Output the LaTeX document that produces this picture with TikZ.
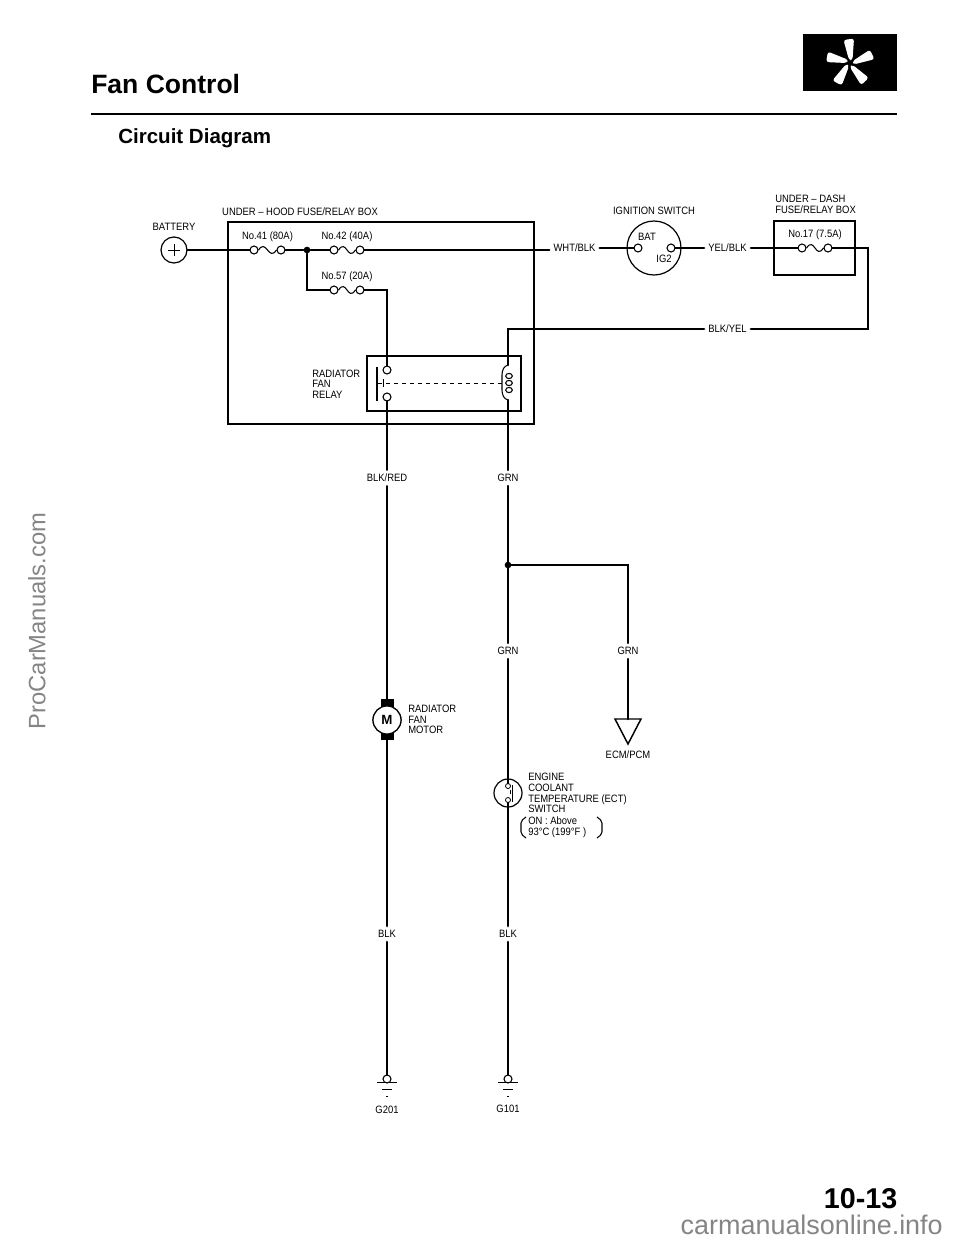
\documentclass[tikz,border=0pt]{standalone}
\usepackage{fontspec}
\setmainfont{Liberation Sans}
\newfontfamily\wirefont[FakeStretch=0.885]{Liberation Sans}
\usetikzlibrary{positioning}
\tikzset{
	wire/.style={line width=1.9pt,line cap=round,line join=miter},
	boxline/.style={line width=1.1pt},
	fineline/.style={line width=0.8pt},
	hairline/.style={line width=0.55pt},
	lbl/.style={font=\wirefont\fontsize{8}{8}\selectfont,inner sep=3pt,align=left},
	contact/.style={circle,draw,line width=0.8pt,inner sep=0pt,minimum size=6pt},
	smallcontact/.style={circle,draw,line width=0.6pt,inner sep=0pt,minimum size=3.8pt},
	junction/.style={circle,fill=black,inner sep=0pt,minimum size=5pt},
	bigring/.style={circle,draw,line width=0.9pt,inner sep=0pt},
	heading/.style={font=\bfseries,inner sep=0pt,anchor=west},
	watermark/.style={text=black!48,inner sep=0pt}
}
\begin{document}
\begin{tikzpicture}[x=0.75pt,y=-0.75pt]
	\useasboundingbox (0,0) rectangle (960,1242);
	% headings
	\node[heading,font=\bfseries\fontsize{19.9}{20}\selectfont] (title) at (91,84) {Fan Control};
	\node[heading,font=\bfseries\fontsize{15.4}{16}\selectfont] (subtitle) at (118,138) {Circuit Diagram};
	\node[heading,font=\bfseries\fontsize{21.5}{24}\selectfont,anchor=east] (pageno) at (897.5,1199) {10-13};
	\draw[line width=1.5pt] (91,113.5) -- (897,113.5);
	\fill[black] (803,34) rectangle (897,91);
	\foreach \ang in {0,72,144,216,288}
		\fill[white,rounded corners=2pt,rotate around={\ang:(850,63)}] (849,60) -- (843.5,40) -- (854,38.5) -- (852.5,60) -- cycle;
	\fill[black] (850,63) circle (2);
	% boxes
	\draw[boxline] (228,222) rectangle (534,424);
	\draw[boxline] (367,356) rectangle (521,411);
	\draw[boxline] (774,221) rectangle (855,275);
	% supply and fuses
	\node[bigring,minimum size=19.5pt] (batt) at (174,250) {};
	\draw[hairline] ([xshift=-4.5pt]batt.center) -- ([xshift=4.5pt]batt.center);
	\draw[hairline] ([yshift=-4.5pt]batt.center) -- ([yshift=4.5pt]batt.center);
	\node[contact] (f41a) at (254,250) {};
	\node[contact] (f41b) at (281,250) {};
	\node[junction] (jct) at (307,250) {};
	\node[contact] (f42a) at (334,250) {};
	\node[contact] (f42b) at (360,250) {};
	\node[contact] (f57a) at (334,290) {};
	\node[contact] (f57b) at (360,290) {};
	\node[contact] (f17a) at (802,248) {};
	\node[contact] (f17b) at (828,248) {};
	\foreach \a/\b in {f41a/f41b,f42a/f42b,f57a/f57b,f17a/f17b}
		\draw[fineline] (\a.east) .. controls +(8,-12) and +(-8,12) .. (\b.west);
	% ignition switch
	\node[bigring,minimum size=40.5pt] (ign) at (654,248) {};
	\node[contact] (bat) at (638,248) {};
	\node[contact] (igt) at (671,248) {};
	\node[lbl,inner sep=0pt] (batlbl) at (647,237) {BAT};
	\node[lbl,inner sep=0pt] (igtlbl) at (664,259) {IG2};
	% relay
	\node[contact] (k1) at (387,370) {};
	\node[contact] (k2) at (387,397) {};
	\draw[fineline] (377,367) -- (377,401);
	\draw[hairline] (383,379) -- (383,387);
	\draw[hairline,dashed] (378,383) -- (503,383);
	\coordinate (coiltop) at (508,365);
	\coordinate (coilbot) at (508,400);
	\coordinate (coilcorner) at (508,329);
	\draw[fineline] (coiltop) .. controls (504,366) and (502,370) .. (502,375) -- (502,390) .. controls (502,395) and (504,399) .. (coilbot);
	\foreach \yy in {376,383,390}
		\draw[fineline] (509,\yy) circle [x radius=3.3,y radius=2.6];
	% motor, switch, ground and connector symbols
	\node[bigring,minimum size=21pt] (motor) at (387,720) {\bfseries M};
	\node[bigring,minimum size=21pt] (ect) at (508,793) {};
	\node[smallcontact] (e1) at (508,786) {};
	\node[smallcontact] (e2) at (508,800) {};
	\draw[fineline] (512.5,785) -- (512.5,802);
	\draw[hairline,dashed] (510,790) -- (510,797);
	\coordinate (jctb) at (508,565);
	\coordinate (ecmtop) at (628,719);
	\coordinate (ecmcorner) at (628,565);
	\node[junction] (jctdot) at (jctb) {};
	\draw[boxline] (615,719) -- (641,719) -- (628,744) -- cycle;
	\node[contact] (gnda) at (387,1079) {};
	\node[contact] (gndb) at (508,1079) {};
	\foreach \gx in {387,508}{
		\draw[fineline] (\gx-10,1082.5) -- (\gx+10,1082.5);
		\draw[fineline] (\gx-5,1089.5) -- (\gx+5,1089.5);
		\fill[black] (\gx-1,1095.5) rectangle (\gx+1,1096.5);
	}
	% texts
	\node[lbl,inner sep=0pt] (battery) at (174,227) {BATTERY};
	\node[lbl,inner sep=0pt] (hoodbox) at (300,212) {UNDER – HOOD FUSE/RELAY BOX};
	\node[lbl,inner sep=0pt] (f41lbl) at (267.5,237) {No.41 (80A)};
	\node[lbl,inner sep=0pt] (f42lbl) at (347,237) {No.42 (40A)};
	\node[lbl,inner sep=0pt] (f57lbl) at (347,277) {No.57 (20A)};
	\node[lbl,inner sep=0pt,anchor=west] (relaylbl) at (312,384) {RADIATOR\\FAN\\RELAY};
	\node[lbl] (whtblk) at (574.5,248) {WHT/BLK};
	\node[lbl] (yelblk) at (727.5,248) {YEL/BLK};
	\node[lbl] (blkyel) at (727.5,329) {BLK/YEL};
	\node[lbl,inner sep=0pt] (ignlbl) at (654,211) {IGNITION SWITCH};
	\node[lbl,inner sep=0pt,anchor=west] (dashbox) at (775,204.5) {UNDER – DASH\\FUSE/RELAY BOX};
	\node[lbl,inner sep=0pt] (f17lbl) at (815,235) {No.17 (7.5A)};
	\node[lbl] (blkred) at (387,478) {BLK/RED};
	\node[lbl] (grna) at (508,478) {GRN};
	\node[lbl] (grnb) at (508,651) {GRN};
	\node[lbl] (grnc) at (628,651) {GRN};
	\node[lbl,inner sep=0pt] (ecm) at (628,755) {ECM/PCM};
	\node[lbl,inner sep=0pt,anchor=west] (motorlbl) at (408,719.5) {RADIATOR\\FAN\\MOTOR};
	\node[lbl,inner sep=0pt,anchor=west] (ectlbl) at (528,793) {ENGINE\\COOLANT\\TEMPERATURE (ECT)\\SWITCH};
	\node[lbl,inner sep=0pt,anchor=west] (ectrange) at (528,827) {ON : Above\\93°C (199°F )};
	\draw[fineline,rounded corners=1.5pt] (526,817) -- (521,821) -- (521,834) -- (526,838);
	\draw[fineline,rounded corners=1.5pt] (597,817) -- (602,821) -- (602,834) -- (597,838);
	\node[lbl] (blka) at (387,934) {BLK};
	\node[lbl] (blkb) at (508,934) {BLK};
	\node[lbl,inner sep=0pt] (ga) at (387,1110) {G201};
	\node[lbl,inner sep=0pt] (gb) at (508,1109) {G101};
	\node[watermark,font=\fontsize{17.8}{18}\selectfont,rotate=90] (wma) at (37,621) {ProCarManuals.com};
	\node[watermark,font=\fontsize{20.2}{21}\selectfont,anchor=east] (wmb) at (943,1225) {carmanualsonline.info};
	% wires
	\draw[wire] (batt) -- (f41a);
	\draw[wire] (f41b) -- (jct);
	\draw[wire] (jct) -- (f42a);
	\draw[wire] (f42b) -- (whtblk.west |- f42b);
	\draw[wire] (jct) |- (f57a);
	\draw[wire] (f57b) -| (k1);
	\draw[wire] (whtblk.east |- bat) -- (bat);
	\draw[wire] (igt) -- (yelblk.west |- igt);
	\draw[wire] (yelblk.east |- f17a) -- (f17a);
	\draw[wire] (f17b) -| (868,329) -- (blkyel.east |- coilcorner);
	\draw[wire] (blkyel.west |- coilcorner) -- (coilcorner) -- (coiltop);
	\draw[wire] (k2) -- (blkred);
	\draw[wire] (blkred) -- (motor);
	\draw[wire] (coilbot) -- (grna);
	\draw[wire] (grna) -- (grnb);
	\draw[wire] (jctb) -- (ecmcorner) -- (grnc);
	\draw[wire] (grnc) -- (ecmtop);
	\draw[wire] (grnb) -- (e1);
	\draw[wire] (e2) -- (blkb);
	\draw[wire] (blkb) -- (gndb);
	\draw[wire] (motor) -- (blka);
	\draw[wire] (blka) -- (gnda);
	\fill[black] (381,699) rectangle (394,708);
	\fill[black] (381,733) rectangle (394,740);
	\node[bigring,minimum size=21pt,fill=white] (motorface) at (motor) {\bfseries M};
\end{tikzpicture}
\end{document}
